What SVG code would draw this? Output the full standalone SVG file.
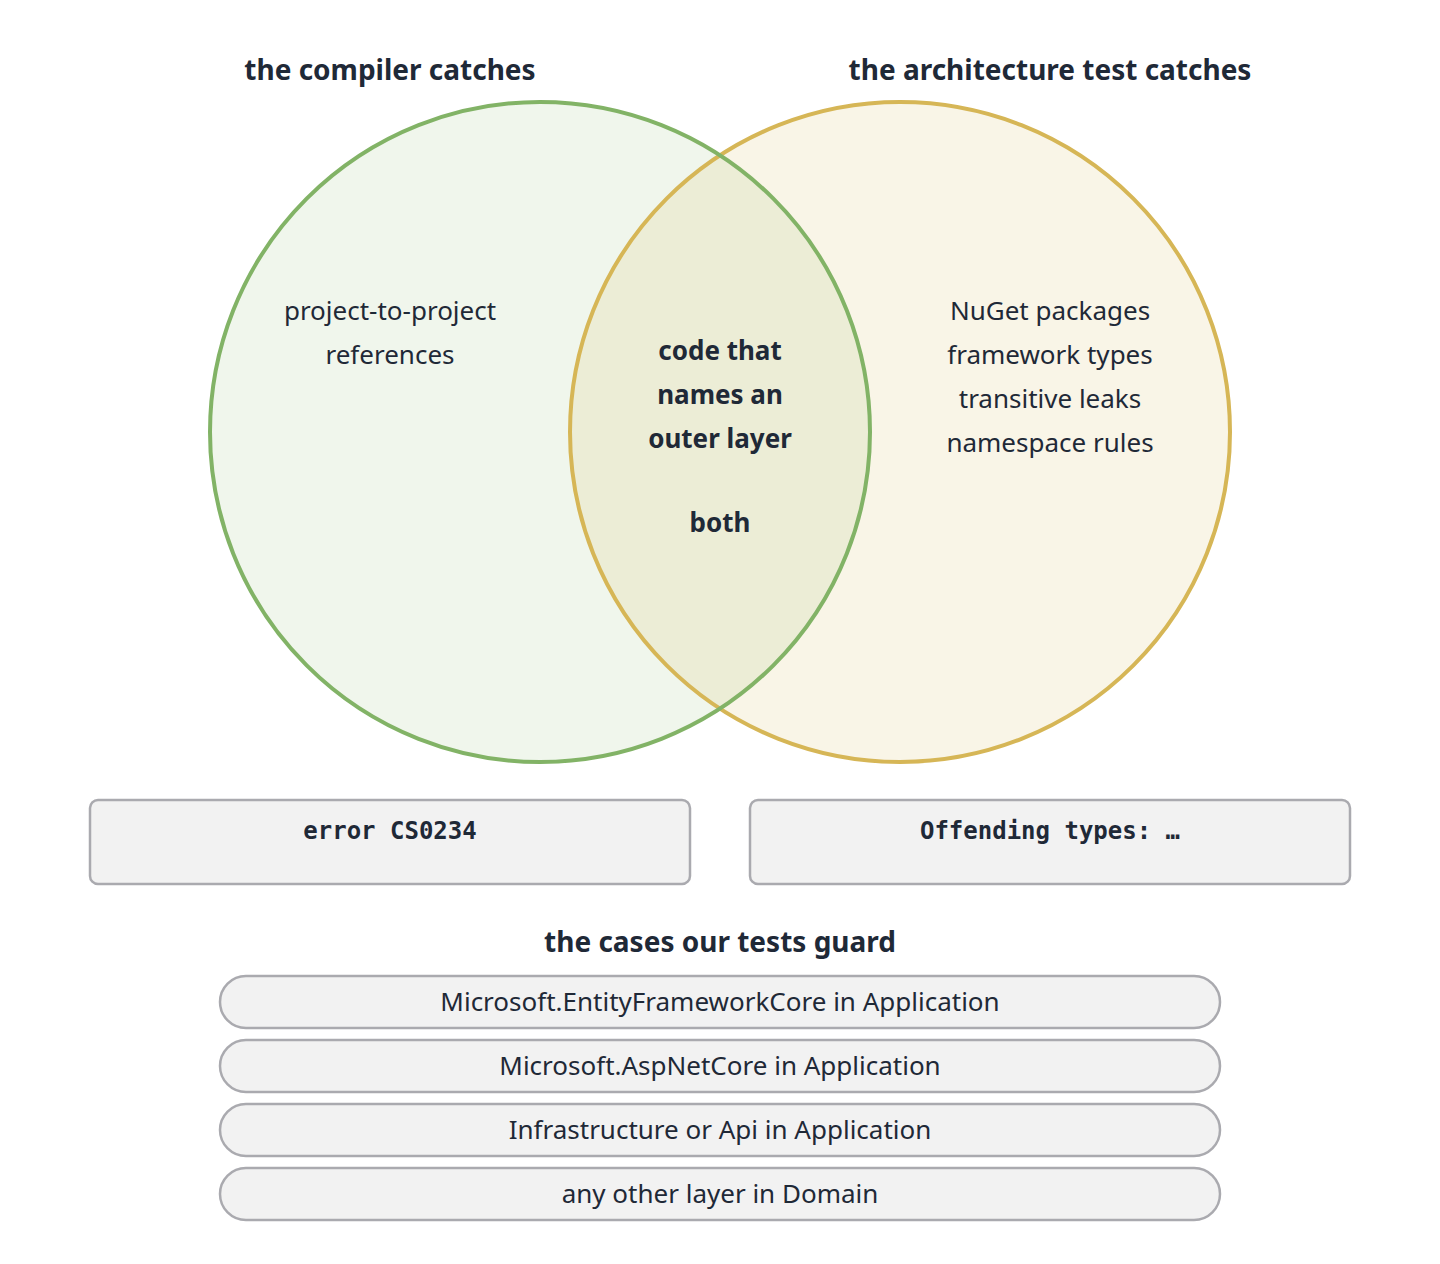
<svg xmlns="http://www.w3.org/2000/svg" width="1440" height="1264" viewBox="0 0 1440 1264">
<style>
text{font-family:"Noto Sans","Open Sans",sans-serif;fill:#1f2937;text-anchor:middle}
.t{font-size:28px;font-weight:bold}
.b{font-size:26px}
.bb{font-size:26px;font-weight:bold}
.m{font-family:"DejaVu Sans Mono","Liberation Mono",monospace;font-size:24px;font-weight:bold}
.box{fill:#f2f2f2;stroke:#aaaaaf;stroke-width:2.5}
</style>
<rect width="1440" height="1264" fill="#fff"/>
<g id="compiler">
<circle cx="540" cy="432" r="330" fill="#82b366" fill-opacity="0.12"/>
</g>
<g id="archtest">
<circle cx="900" cy="432" r="330" fill="#d6b656" fill-opacity="0.14"/>
</g>
<g id="outlines" fill="none" stroke-width="4">
<circle cx="900" cy="432" r="330" stroke="#d6b656"/>
<circle cx="540" cy="432" r="330" stroke="#82b366"/>
</g>
<g id="labels">
<text class="t" x="390" y="80">the compiler catches</text>
<text class="t" x="1050" y="80">the architecture test catches</text>
<text class="b" x="390" y="320">project-to-project</text>
<text class="b" x="390" y="364">references</text>
<text class="bb" x="720" y="360">code that</text>
<text class="bb" x="720" y="404">names an</text>
<text class="bb" x="720" y="448">outer layer</text>
<text class="bb" x="720" y="532">both</text>
<text class="b" x="1050" y="320">NuGet packages</text>
<text class="b" x="1050" y="364">framework types</text>
<text class="b" x="1050" y="408">transitive leaks</text>
<text class="b" x="1050" y="452">namespace rules</text>
</g>
<g id="err">
<rect class="box" x="90" y="800" width="600" height="84" rx="8"/>
<text class="m" x="390" y="839">error CS0234</text>
</g>
<g id="offend">
<rect class="box" x="750" y="800" width="600" height="84" rx="8"/>
<text class="m" x="1050" y="839">Offending types: …</text>
</g>
<g id="cases">
<text class="t" x="720" y="952">the cases our tests guard</text>
<rect class="box" x="220" y="976" width="1000" height="52" rx="26"/>
<text class="b" x="720" y="1011">Microsoft.EntityFrameworkCore in Application</text>
<rect class="box" x="220" y="1040" width="1000" height="52" rx="26"/>
<text class="b" x="720" y="1075">Microsoft.AspNetCore in Application</text>
<rect class="box" x="220" y="1104" width="1000" height="52" rx="26"/>
<text class="b" x="720" y="1139">Infrastructure or Api in Application</text>
<rect class="box" x="220" y="1168" width="1000" height="52" rx="26"/>
<text class="b" x="720" y="1203">any other layer in Domain</text>
</g>
</svg>
